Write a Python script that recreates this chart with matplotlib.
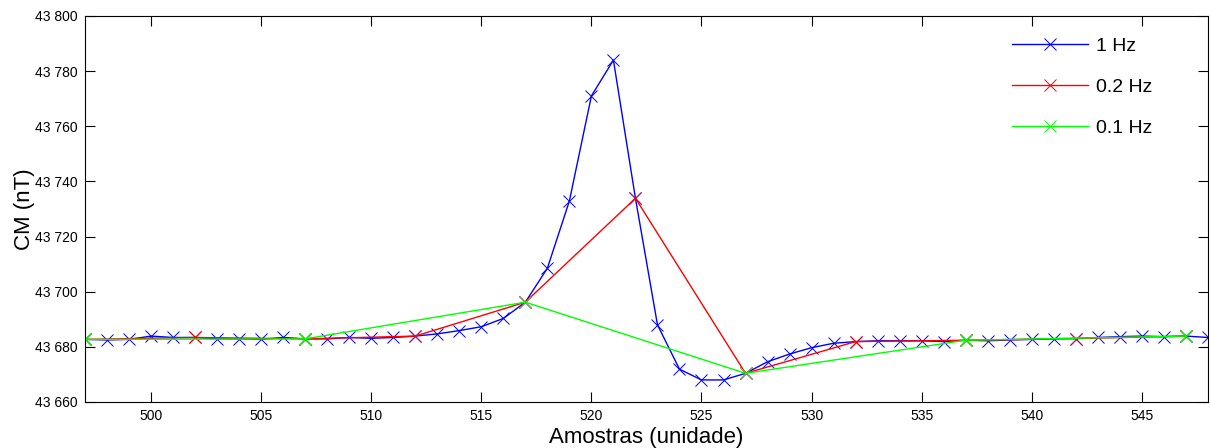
import numpy as np
import matplotlib.pyplot as plt
from matplotlib.ticker import FuncFormatter

plt.rcParams['font.family'] = ['Liberation Sans', 'DejaVu Sans']

# amostras a 1 Hz
x_1hz = np.arange(497, 549)
cm_1hz = [43682.7, 43682.5, 43682.7, 43683.9, 43683.4, 43683.4, 43682.9, 43682.9,
          43682.7, 43683.4, 43682.9, 43682.9, 43683.4, 43683.1, 43683.4, 43683.9,
          43684.7, 43685.9, 43687.3, 43690.3, 43696.2, 43708.5, 43732.9, 43771.0,
          43784.0, 43733.9, 43688.0, 43671.9, 43668.0, 43668.0, 43670.4, 43674.6,
          43677.4, 43679.7, 43681.3, 43681.9, 43682.2, 43682.2, 43682.2, 43681.9,
          43682.4, 43682.2, 43682.5, 43682.7, 43683.0, 43683.0, 43683.4, 43683.7,
          43683.9, 43683.7, 43683.9, 43683.4]

# reamostragem 0.2 Hz
x_02hz = [497, 502, 507, 512, 517, 522, 527, 532, 537, 542, 547]
cm_02hz = [43682.7, 43683.4, 43682.9, 43683.9, 43696.2, 43733.9, 43670.4,
           43681.9, 43682.4, 43683.0, 43683.9]

# reamostragem 0.1 Hz
x_01hz = [497, 507, 517, 527, 537, 547]
cm_01hz = [43682.7, 43682.9, 43696.2, 43670.4, 43682.4, 43683.9]

fig = plt.figure(figsize=(12.1, 4.48), dpi=100)
ax = fig.add_axes([0.0702, 0.1027, 0.9281, 0.8616])

ax.plot(x_1hz, cm_1hz, color=(0, 0, 1), marker='x', ms=8, mew=0.7, lw=1.0, label='1 Hz')
ax.plot(x_02hz, cm_02hz, color=(1, 0, 0), marker='x', ms=8, mew=0.7, lw=1.0, label='0.2 Hz')
ax.plot(x_01hz, cm_01hz, color=(0, 1, 0), marker='x', ms=8, mew=0.7, lw=1.0, label='0.1 Hz')

ax.set_xlim(497, 548)
ax.set_ylim(43660, 43800)
ax.set_xticks(np.arange(500, 548, 5))
ax.set_yticks(np.arange(43660, 43801, 20))
ax.yaxis.set_major_formatter(FuncFormatter(lambda v, p: '{:,.0f}'.format(v).replace(',', ' ')))
ax.tick_params(direction='in', length=7, width=0.8, top=True, right=True, labelsize=10, pad=5)
for s in ax.spines.values():
    s.set_linewidth(0.8)

ax.set_xlabel('Amostras (unidade)', fontsize=16, labelpad=3)
ax.set_ylabel('CM (nT)', fontsize=16, labelpad=0)

ax.legend(loc='upper left', bbox_to_anchor=(0.812, 0.985), frameon=False, fontsize=14,
          handlelength=3.9, handletextpad=0.4, labelspacing=1.2, borderpad=0.3)

fig.savefig('out.png', dpi=100)
